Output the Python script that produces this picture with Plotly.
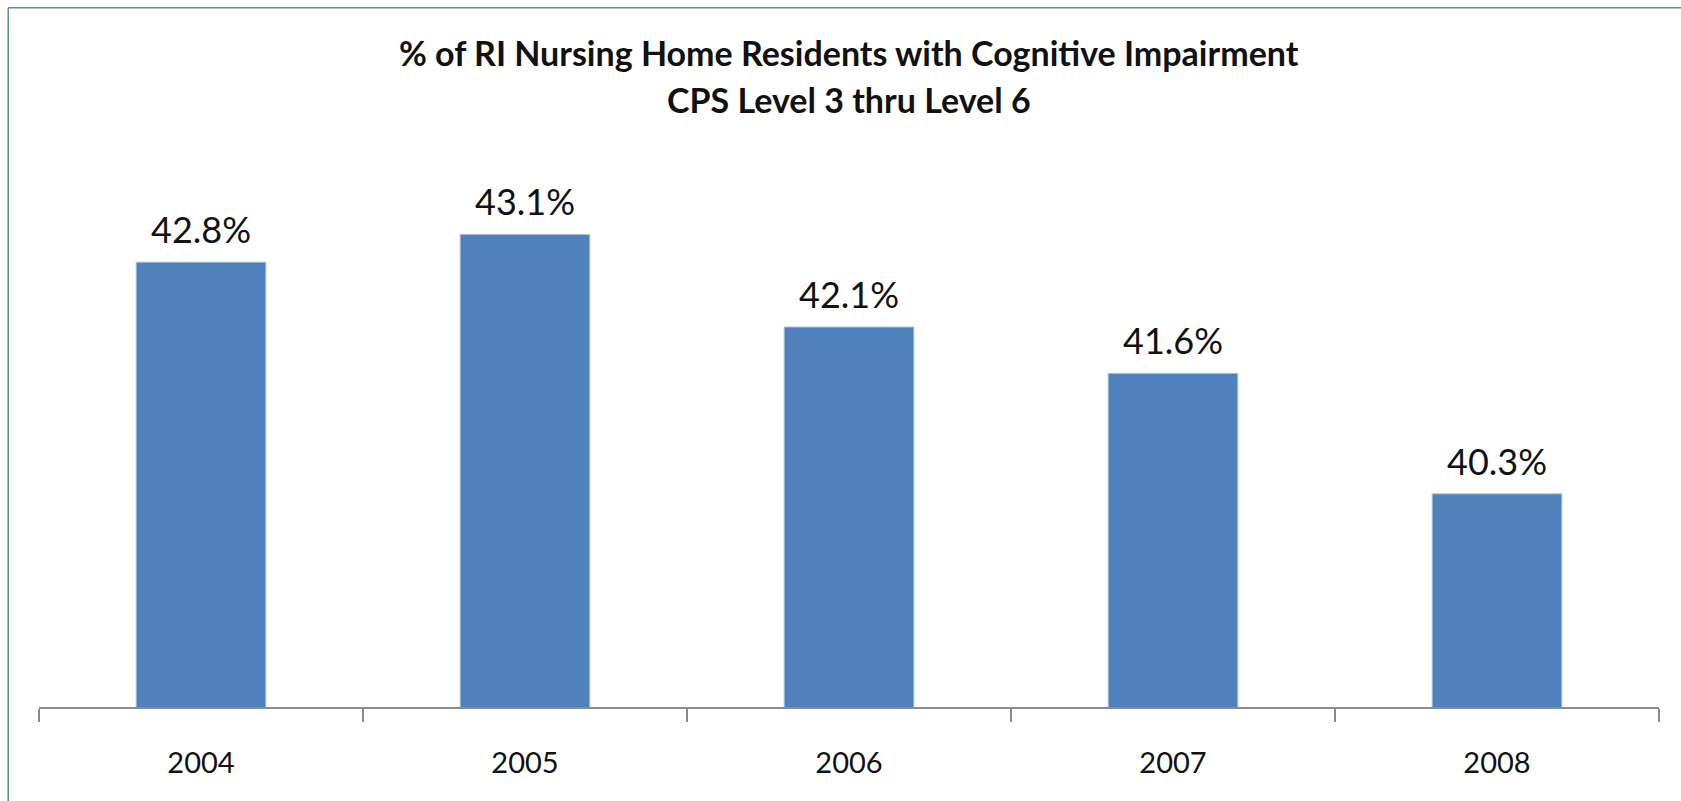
import plotly.graph_objects as go

# Share of RI nursing home residents at CPS levels 3-6, by year
years = ["2004", "2005", "2006", "2007", "2008"]
pct = [42.8, 43.1, 42.1, 41.6, 40.3]
labels = [f"{v:.1f}%" for v in pct]

title_line1 = "% of RI Nursing Home Residents with Cognitive Impairment"
title_line2 = "CPS Level 3 thru Level 6"

BAR_BLUE = "#4f81bd"
AXIS_GREY = "#8c8c8c"
FRAME_BLUE = "#5b86bf"
FONT = "Lato, 'Open Sans', sans-serif"

fig = go.Figure(
    go.Bar(
        x=years,
        y=pct,
        marker=dict(color=BAR_BLUE, line=dict(color="#a9bfdc", width=1)),
        width=0.4,
        hoverinfo="skip",
    )
)

# value labels above each bar (category axis positions are indices)
for i, (v, lab) in enumerate(zip(pct, labels)):
    fig.add_annotation(
        x=i, y=v, xref="x", yref="y", text=lab, showarrow=False,
        yanchor="bottom", yshift=9,
        font=dict(family=FONT, size=36, color="#111111"),
    )

# two-line bold title
fig.add_annotation(
    x=0.5, y=1, xref="paper", yref="paper", text=f"<b>{title_line1}</b>",
    showarrow=False, yanchor="middle", yshift=99,
    font=dict(family=FONT, size=34, color="#111111"),
)
fig.add_annotation(
    x=0.5, y=1, xref="paper", yref="paper", text=f"<b>{title_line2}</b>",
    showarrow=False, yanchor="middle", yshift=52,
    font=dict(family=FONT, size=34, color="#111111"),
)

# outer chart frame: left and top edges
fig.add_shape(
    type="line", xref="paper", yref="paper",
    x0=-0.019, x1=-0.019, y0=-0.5, y1=1.2575,
    line=dict(color=FRAME_BLUE, width=1.5), layer="below",
)
fig.add_shape(
    type="line", xref="paper", yref="paper",
    x0=-0.019, x1=1.3, y0=1.2575, y1=1.2575,
    line=dict(color=FRAME_BLUE, width=1.5), layer="below",
)

fig.update_layout(
    width=1681,
    height=801,
    margin=dict(l=39, r=22, t=151, b=94),
    paper_bgcolor="white",
    plot_bgcolor="white",
    showlegend=False,
    bargap=0.6,
    xaxis=dict(
        type="category", range=[-0.5, 4.5], tickangle=0,
        showline=True, linecolor=AXIS_GREY, linewidth=2,
        ticks="outside", tickson="boundaries", ticklen=13,
        tickcolor=AXIS_GREY, tickwidth=2,
        ticklabelstandoff=29,
        tickfont=dict(family=FONT, size=29, color="#111111"),
        showgrid=False, zeroline=False,
    ),
    yaxis=dict(
        range=[38, 44], visible=False, showgrid=False, zeroline=False,
    ),
)

fig.write_html("out.html")
